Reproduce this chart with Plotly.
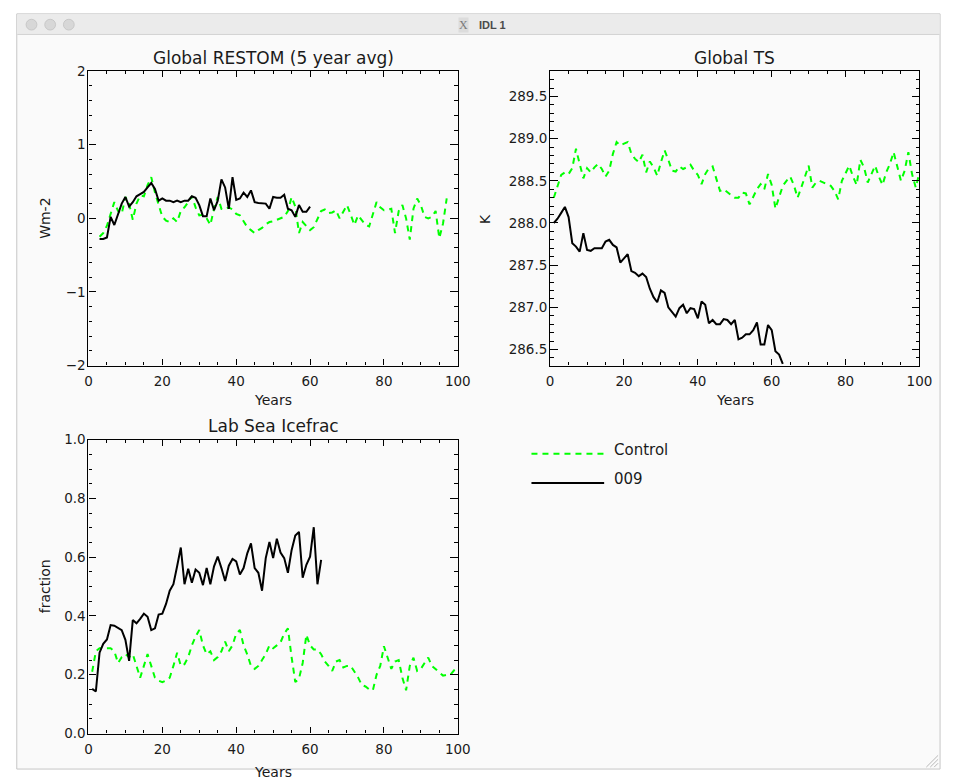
import plotly.graph_objects as go

W, H = 957, 780

# ---------------- data ----------------
restom_009_start = 3
restom_009 = [-0.28, -0.28, -0.26, 0.02, -0.09, 0.07, 0.20, 0.29, 0.16, 0.22,
              0.30, 0.33, 0.36, 0.42, 0.48, 0.40, 0.24, 0.27, 0.24, 0.24,
              0.22, 0.24, 0.22, 0.24, 0.24, 0.30, 0.28, 0.18, 0.03, 0.03,
              0.27, 0.11, 0.24, 0.53, 0.42, 0.13, 0.56, 0.25, 0.27, 0.35,
              0.29, 0.38, 0.22, 0.21, 0.20, 0.20, 0.13, 0.29, 0.28, 0.28,
              0.32, 0.13, 0.11, 0.02, 0.18, 0.09, 0.09, 0.16]

restom_ctl_start = 3
restom_ctl = [-0.25, -0.20, -0.10, 0.05, 0.22, 0.10, 0.06, 0.29, 0.20, -0.02,
              0.20, 0.31, 0.30, 0.45, 0.56, 0.35, 0.20, 0.02, -0.03, -0.05,
              0.00, -0.05, 0.10, 0.15, 0.22, 0.30, 0.15, 0.04, 0.05, 0.00,
              -0.09, 0.13, 0.29, 0.13, 0.12, 0.15, 0.12, 0.06, 0.04, -0.05,
              -0.12, -0.16, -0.20, -0.16, -0.13, -0.08, -0.05, -0.04, -0.02, 0.00,
              0.02, 0.10, 0.29, 0.16, -0.20, -0.05, -0.10, -0.16, -0.12, -0.02,
              0.10, 0.12, 0.07, 0.08, 0.11, 0.00, 0.10, 0.18, 0.05, -0.09,
              0.04, -0.02, -0.09, -0.11, 0.05, 0.22, 0.15, 0.11, 0.12, 0.13,
              -0.20, 0.10, 0.18, 0.00, -0.29, 0.13, 0.27, 0.18, 0.02, 0.00,
              0.02, 0.10, -0.27, -0.07, 0.27]

ts_009_start = 1
ts_009 = [288.00, 288.05, 288.12, 288.19, 288.07, 287.76, 287.72, 287.66, 287.88, 287.68,
          287.67, 287.70, 287.70, 287.70, 287.78, 287.80, 287.74, 287.71, 287.53, 287.58,
          287.63, 287.43, 287.41, 287.37, 287.40, 287.36, 287.22, 287.12, 287.06, 287.20,
          287.17, 287.00, 286.94, 286.89, 286.99, 287.03, 286.93, 286.99, 286.98, 286.87,
          287.07, 287.03, 286.81, 286.85, 286.80, 286.80, 286.86, 286.85, 286.80, 286.85,
          286.62, 286.64, 286.68, 286.68, 286.73, 286.82, 286.56, 286.56, 286.79, 286.73,
          286.48, 286.44, 286.33]

ts_ctl_start = 1
ts_ctl = [288.30, 288.45, 288.57, 288.60, 288.58, 288.65, 288.88, 288.70, 288.53, 288.65,
          288.60, 288.66, 288.70, 288.64, 288.55, 288.62, 288.82, 288.96, 288.92, 288.94,
          288.96, 288.82, 288.76, 288.72, 288.81, 288.60, 288.73, 288.66, 288.56, 288.72,
          288.86, 288.75, 288.62, 288.61, 288.67, 288.64, 288.66, 288.69, 288.62, 288.57,
          288.46, 288.58, 288.65, 288.67, 288.53, 288.38, 288.40, 288.36, 288.33, 288.30,
          288.30, 288.36, 288.35, 288.22, 288.32, 288.40, 288.46, 288.40, 288.58, 288.45,
          288.17, 288.30, 288.44, 288.50, 288.55, 288.45, 288.30, 288.42, 288.55, 288.68,
          288.42, 288.48, 288.50, 288.48, 288.46, 288.44, 288.38, 288.28, 288.50, 288.60,
          288.68, 288.55, 288.45, 288.75, 288.66, 288.48, 288.58, 288.68, 288.55, 288.45,
          288.60, 288.70, 288.84, 288.66, 288.50, 288.62, 288.84, 288.58, 288.42, 288.60]

ice_009_start = 1
ice_009 = [0.152, 0.143, 0.275, 0.305, 0.320, 0.369, 0.367, 0.358, 0.352, 0.319,
           0.247, 0.386, 0.375, 0.390, 0.408, 0.397, 0.352, 0.358, 0.405, 0.408,
           0.441, 0.486, 0.508, 0.569, 0.633, 0.508, 0.561, 0.513, 0.558, 0.547,
           0.505, 0.563, 0.508, 0.569, 0.602, 0.563, 0.519, 0.571, 0.594, 0.586,
           0.541, 0.563, 0.613, 0.647, 0.563, 0.547, 0.486, 0.597, 0.652, 0.597,
           0.663, 0.616, 0.597, 0.547, 0.624, 0.674, 0.686, 0.530, 0.574, 0.602,
           0.702, 0.508, 0.591]

ice_ctl_start = 1
ice_ctl = [0.21, 0.28, 0.29, 0.29, 0.29, 0.29, 0.28, 0.24, 0.26, 0.27,
           0.26, 0.27, 0.23, 0.19, 0.23, 0.27, 0.23, 0.19, 0.18, 0.175,
           0.18, 0.19, 0.23, 0.275, 0.23, 0.236, 0.26, 0.30, 0.33, 0.352,
           0.30, 0.27, 0.28, 0.25, 0.26, 0.28, 0.313, 0.28, 0.30, 0.34,
           0.352, 0.30, 0.269, 0.23, 0.22, 0.23, 0.25, 0.27, 0.30, 0.29,
           0.30, 0.31, 0.34, 0.358, 0.26, 0.175, 0.186, 0.24, 0.336, 0.30,
           0.286, 0.286, 0.27, 0.245, 0.23, 0.213, 0.245, 0.25, 0.225, 0.23,
           0.23, 0.21, 0.191, 0.165, 0.16, 0.15, 0.147, 0.20, 0.23, 0.297,
           0.255, 0.22, 0.245, 0.25, 0.19, 0.147, 0.23, 0.258, 0.213, 0.22,
           0.24, 0.258, 0.23, 0.22, 0.21, 0.197, 0.20, 0.20, 0.215, 0.225]

titles = ["Global RESTOM (5 year avg)", "Global TS", "Lab Sea Icefrac"]
ytitles = ["Wm-2", "K", "fraction"]
xtitle = "Years"
legend_names = ["Control", "009"]

GREEN = "#00ff00"
BLACK = "#000000"
FONT = "DejaVu Sans"
TXT = "#1a1a1a"


def yrs(start, vals):
    return list(range(start, start + len(vals)))


def px(x):
    return x / W


def py(y):
    return 1 - y / H


fig = go.Figure()

series = [
    ("x", "y", restom_ctl_start, restom_ctl, restom_009_start, restom_009),
    ("x2", "y2", ts_ctl_start, ts_ctl, ts_009_start, ts_009),
    ("x3", "y3", ice_ctl_start, ice_ctl, ice_009_start, ice_009),
]
for xa, ya, cs, cv, ns, nv in series:
    fig.add_trace(go.Scatter(x=yrs(cs, cv), y=cv, mode="lines", xaxis=xa, yaxis=ya,
                             line=dict(color=GREEN, width=2, dash="6px,5px"),
                             name=legend_names[0], showlegend=False, hoverinfo="skip"))
    fig.add_trace(go.Scatter(x=yrs(ns, nv), y=nv, mode="lines", xaxis=xa, yaxis=ya,
                             line=dict(color=BLACK, width=2),
                             name=legend_names[1], showlegend=False, hoverinfo="skip"))

# plot boxes in pixels (left, right, top, bottom)
boxes = [(86, 462, 64.5, 365), (556, 932, 64.5, 365), (86, 462, 440.7, 740.7)]
TICKFONT = dict(family=FONT, size=13.5, color=TXT)


def xaxis_style(b):
    return dict(domain=[px(b[0]), px(b[1])], range=[0, 100], tickmode="linear", tick0=0, dtick=20,
                ticks="inside", ticklen=6, tickwidth=1.1, tickcolor=BLACK,
                minor=dict(dtick=5, ticklen=3, ticks="inside", tickcolor=BLACK, tickwidth=1.1, showgrid=False),
                showline=True, linecolor=BLACK, linewidth=1.2, mirror="ticks",
                showgrid=False, zeroline=False, ticklabelstandoff=3,
                tickfont=TICKFONT)


def yaxis_style(b, rng, dtick, mdtick, fmt):
    return dict(domain=[py(b[3]), py(b[2])], range=rng, tickmode="linear", tick0=0, dtick=dtick,
                ticks="inside", ticklen=7.5, tickwidth=1.1, tickcolor=BLACK,
                minor=dict(dtick=mdtick, ticklen=3.8, ticks="inside", tickcolor=BLACK, tickwidth=1.1, showgrid=False),
                showline=True, linecolor=BLACK, linewidth=1.2, mirror="ticks",
                showgrid=False, zeroline=False, tickformat=fmt, ticklabelstandoff=-1,
                tickfont=TICKFONT)


fig.update_layout(
    xaxis=dict(xaxis_style(boxes[0]), anchor="y"),
    yaxis=dict(yaxis_style(boxes[0], [-2, 2], 1, 0.2, "d"), anchor="x"),
    xaxis2=dict(xaxis_style(boxes[1]), anchor="y2"),
    yaxis2=dict(yaxis_style(boxes[1], [286.31, 289.80], 0.5, 0.1, ".1f"), anchor="x2"),
    xaxis3=dict(xaxis_style(boxes[2]), anchor="y3"),
    yaxis3=dict(yaxis_style(boxes[2], [0, 1.0], 0.2, 0.05, ".1f"), anchor="x3"),
)

shapes = []
# window frame
shapes.append(dict(type="rect", xref="paper", yref="paper", x0=px(13), x1=px(953), y0=py(777), y1=py(6),
                   fillcolor="#fafafa", line=dict(color="#c6c6c6", width=1), layer="below"))
shapes.append(dict(type="rect", xref="paper", yref="paper", x0=px(13.5), x1=px(952.5), y0=py(27), y1=py(6.5),
                   fillcolor="#ebebeb", line=dict(width=0), layer="below"))
shapes.append(dict(type="line", xref="paper", yref="paper", x0=px(13.5), x1=px(952.5), y0=py(27), y1=py(27),
                   line=dict(color="#d2d2d2", width=1), layer="below"))
for cx in (28, 47, 66):
    shapes.append(dict(type="circle", xref="paper", yref="paper", x0=px(cx - 5.5), x1=px(cx + 5.5),
                       y0=py(17 + 5.5), y1=py(17 - 5.5), fillcolor="#d7d7d7",
                       line=dict(color="#c2c2c2", width=0.8), layer="below"))
# resize grip
for d in (4, 8, 12):
    shapes.append(dict(type="line", xref="paper", yref="paper", x0=px(951 - d), x1=px(951), y0=py(775), y1=py(775 - d),
                       line=dict(color="#b8b8b8", width=1), layer="below"))
# legend lines
shapes.append(dict(type="line", xref="paper", yref="paper", x0=px(537), x1=px(611), y0=py(455), y1=py(455),
                   line=dict(color=GREEN, width=2, dash="6px,5px")))
shapes.append(dict(type="line", xref="paper", yref="paper", x0=px(537), x1=px(611), y0=py(485), y1=py(485),
                   line=dict(color=BLACK, width=2)))

ann = []


def text(s, x, y, size, xanchor="center", yanchor="middle", angle=0, color=TXT, family=FONT, **kw):
    ann.append(dict(text=s, xref="paper", yref="paper", x=px(x), y=py(y), showarrow=False,
                    xanchor=xanchor, yanchor=yanchor, textangle=angle,
                    font=dict(family=family, size=size, color=color), **kw))


# window title
text("<b>IDL 1</b>", 482, 17, 11, xanchor="left", color="#4a4a4a", family="Liberation Sans")
text("X", 468, 17, 12, color="#7a7a7a", family="Liberation Serif", bgcolor="#dcdcdc", borderpad=0)

# plot titles
text(titles[0], 274, 51, 17)
text(titles[1], 744, 51, 17)
text(titles[2], 274, 427, 17)
# axis titles
text(xtitle, 274, 400, 14)
text(xtitle, 744, 400, 14)
text(xtitle, 274, 770, 14, yanchor="top")
text(ytitles[0], 41, 215, 14, angle=-90)
text(ytitles[1], 489, 215, 14, angle=-90)
text(ytitles[2], 42, 590, 14, angle=-90)
# legend text
text(legend_names[0], 619, 451, 15, xanchor="left")
text(legend_names[1], 619, 481, 15, xanchor="left")

fig.update_layout(width=W, height=H, autosize=False, margin=dict(l=0, r=0, t=0, b=0, pad=0),
                  paper_bgcolor="#ffffff", plot_bgcolor="rgba(0,0,0,0)",
                  shapes=shapes, annotations=ann, showlegend=False)

fig.write_html("out.html")
